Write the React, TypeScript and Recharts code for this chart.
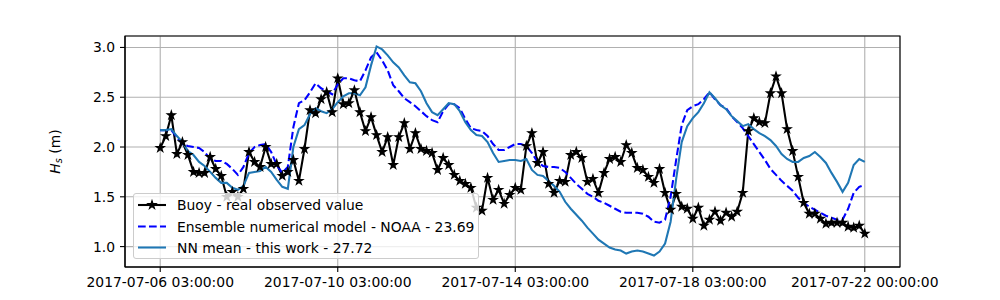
import React from 'react';
import { LineChart, Line, XAxis, YAxis, CartesianGrid, Legend, ReferenceArea } from 'recharts';

// 3-hourly samples from 2017-07-06 03:00 to 2017-07-22 00:00
const STEP_HOURS = 3;

const buoy = [
  1.99, 2.11, 2.32, 1.93, 2.05, 1.92, 1.75, 1.74, 1.74, 1.90,
  1.78, 1.71, 1.50, 1.55, 1.50, 1.58, 1.95, 1.85, 1.80, 2.00,
  1.83, 1.83, 1.71, 1.75, 1.87, 1.66, 1.98, 2.37, 2.34, 2.48,
  2.55, 2.35, 2.69, 2.43, 2.44, 2.57, 2.35, 2.16, 2.30, 2.12,
  1.95, 2.10, 1.82, 2.10, 2.24, 1.98, 2.14, 1.98, 1.96, 1.94,
  1.77, 1.89, 1.82, 1.72, 1.66, 1.63, 1.59, 1.39, 1.36, 1.69,
  1.47, 1.57, 1.43, 1.52, 1.59, 1.57, 2.01, 2.14, 1.84, 1.95,
  1.63, 1.54, 1.66, 1.65, 1.92, 1.95, 1.89, 1.65, 1.68, 1.54,
  1.74, 1.88, 1.90, 1.85, 2.02, 1.94, 1.79, 1.77, 1.70, 1.64,
  1.78, 1.54, 1.37, 1.53, 1.40, 1.38, 1.28, 1.39, 1.21, 1.27,
  1.35, 1.26, 1.34, 1.30, 1.35, 1.54, 2.16, 2.29, 2.25, 2.24,
  2.54, 2.71, 2.54, 2.18, 1.96, 1.70, 1.44, 1.33, 1.33, 1.28,
  1.23, 1.24, 1.24, 1.24, 1.20, 1.19, 1.21, 1.13,
];

const model = [
  2.17, 2.17, 2.17, 2.10, 2.03, 2.01, 2.00, 1.99, 1.95, 1.88,
  1.86, 1.86, 1.83, 1.78, 1.72, 1.80, 1.94, 2.00, 2.02, 2.03,
  1.95, 1.82, 1.74, 1.80, 2.20, 2.44, 2.47, 2.55, 2.64, 2.59,
  2.56, 2.53, 2.63, 2.69, 2.69, 2.67, 2.66, 2.77, 2.90, 2.95,
  2.87, 2.77, 2.62, 2.56, 2.49, 2.45, 2.41, 2.36, 2.31, 2.27,
  2.25, 2.36, 2.43, 2.43, 2.39, 2.28, 2.19, 2.17, 2.16, 2.11,
  2.03, 1.97, 1.97, 2.00, 2.03, 2.03, 2.01, 1.94, 1.85, 1.81,
  1.80, 1.80, 1.79, 1.75, 1.69, 1.63, 1.58, 1.53, 1.50, 1.46,
  1.44, 1.41, 1.38, 1.35, 1.34, 1.34, 1.34, 1.33, 1.30, 1.25,
  1.24, 1.27, 1.50, 1.87, 2.22, 2.37, 2.41, 2.43, 2.48, 2.55,
  2.48, 2.42, 2.39, 2.31, 2.25, 2.19, 2.11, 2.03, 1.95, 1.87,
  1.78, 1.72, 1.66, 1.61, 1.56, 1.49, 1.44, 1.40, 1.37, 1.34,
  1.31, 1.29, 1.27, 1.27, 1.38, 1.54, 1.60, 1.62,
];

const nn = [
  2.17, 2.17, 2.18, 2.11, 2.05, 1.96, 1.92, 1.85, 1.81, 1.75,
  1.69, 1.64, 1.64, 1.59, 1.57, 1.61, 1.74, 1.75, 1.76, 1.80,
  1.75, 1.67, 1.60, 1.58, 2.00, 2.18, 2.22, 2.33, 2.39, 2.36,
  2.34, 2.38, 2.45, 2.51, 2.54, 2.54, 2.52, 2.60, 2.82, 3.01,
  2.98, 2.92, 2.85, 2.80, 2.72, 2.65, 2.64, 2.56, 2.44, 2.35,
  2.32, 2.38, 2.44, 2.43, 2.36, 2.25, 2.17, 2.12, 2.11, 2.05,
  1.94, 1.85, 1.86, 1.87, 1.87, 1.86, 1.88, 1.77, 1.72, 1.71,
  1.66, 1.61, 1.55, 1.45, 1.38, 1.32, 1.26, 1.19, 1.13, 1.07,
  1.03, 0.99, 0.97, 0.96, 0.93, 0.95, 0.96, 0.95, 0.93, 0.91,
  0.95, 1.03, 1.25, 1.68, 2.05, 2.21, 2.29, 2.35, 2.44, 2.55,
  2.49, 2.42, 2.38, 2.31, 2.26, 2.21, 2.23, 2.18, 2.14, 2.11,
  2.07, 2.01, 1.93, 1.88, 1.85, 1.85, 1.89, 1.91, 1.95, 1.90,
  1.84, 1.74, 1.65, 1.55, 1.64, 1.82, 1.88, 1.85,
];

const xTickHours = [0, 96, 192, 288, 381];
const xTickLabels = [
  '2017-07-06 03:00:00',
  '2017-07-10 03:00:00',
  '2017-07-14 03:00:00',
  '2017-07-18 03:00:00',
  '2017-07-22 00:00:00',
];
const yTicks = [1.0, 1.5, 2.0, 2.5, 3.0];
const seriesNames = [
  'Buoy - real observed value',
  'Ensemble numerical model - NOAA - 23.69',
  'NN mean - this work - 27.72',
];

const data = buoy.map((b, i) => ({ t: i * STEP_HOURS, buoy: b, model: model[i], nn: nn[i] }));

const FONT = 'DejaVu Sans';
const FS = 13.9;
const BLUE = '#0000ff';
const NNC = '#1f77b4';
const X_DOMAIN: [number, number] = [-19.05, 400.05];
const Y_DOMAIN: [number, number] = [0.795, 3.115];

function starPath(cx: number, cy: number, R: number) {
  const r = R * 0.381966;
  let d = '';
  for (let k = 0; k < 10; k++) {
    const ang = -Math.PI / 2 + (k * Math.PI) / 5;
    const rad = k % 2 === 0 ? R : r;
    d += (k === 0 ? 'M' : 'L') + (cx + rad * Math.cos(ang)).toFixed(2) + ',' + (cy + rad * Math.sin(ang)).toFixed(2);
  }
  return d + 'Z';
}

const renderStar = (p: any) => {
  const { cx, cy, index } = p;
  if (cx == null || cy == null) return <g key={`s-${index}`} />;
  return <path key={`s-${index}`} d={starPath(cx, cy, 4.2)} fill="#000" stroke="#000" strokeWidth={1.2} strokeLinejoin="miter" />;
};

const renderLegend = () => {
  const rows = [11, 32.5, 53.5];
  return (
    <div
      style={{
        width: 346,
        height: 66,
        boxSizing: 'border-box',
        background: 'rgba(255,255,255,0.8)',
        border: '1px solid #cccccc',
        borderRadius: 3,
      }}
    >
      <svg width={344} height={64} style={{ display: 'block' }}>
        {/* buoy */}
        <line x1={4} x2={32} y1={rows[0]} y2={rows[0]} stroke="#000" strokeWidth={2.08} />
        <path d={starPath(18, rows[0], 4.2)} fill="#000" stroke="#000" strokeWidth={1.2} />
        {/* model */}
        <line x1={4} x2={32} y1={rows[1]} y2={rows[1]} stroke={BLUE} strokeWidth={2.08} strokeDasharray="7.7 3.3" />
        {/* nn */}
        <line x1={4} x2={32} y1={rows[2]} y2={rows[2]} stroke={NNC} strokeWidth={2.08} />
        {seriesNames.map((n, i) => (
          <text key={n} x={43} y={rows[i]} dominantBaseline="central" fontFamily={FONT} fontSize={FS} fill="#000">
            {n}
          </text>
        ))}
      </svg>
    </div>
  );
};

const renderYLabel = () => (
  <text
    x={55}
    y={151.5}
    transform="rotate(-90, 55, 151.5)"
    textAnchor="middle"
    dominantBaseline="central"
    fontFamily={FONT}
    fontSize={FS}
    fill="#000"
  >
    <tspan fontStyle="italic">H</tspan>
    <tspan fontStyle="italic" fontSize={FS * 0.7} dy={3}>s</tspan>
    <tspan dy={-3}>{' (m)'}</tspan>
  </text>
);

const xFmt = (v: number) => {
  const idx = xTickHours.indexOf(v);
  return idx >= 0 ? xTickLabels[idx] : '';
};

export default function App() {
  return (
    <div style={{ position: 'absolute', left: 0, top: 0, width: 1000, height: 300, background: '#fff' }}>
      <LineChart width={1000} height={300} data={data} margin={{ top: 36, right: 100, bottom: 0, left: 0 }}>
        <CartesianGrid stroke="#b0b0b0" strokeWidth={1.1} vertical={true} horizontal={true} />
        <XAxis
          dataKey="t"
          type="number"
          domain={X_DOMAIN}
          allowDataOverflow
          ticks={xTickHours}
          tickFormatter={xFmt}
          interval={0}
          height={33}
          tickSize={5}
          tickMargin={5}
          axisLine={{ stroke: '#000', strokeWidth: 1.1 }}
          tickLine={{ stroke: '#000', strokeWidth: 1.1 }}
          tick={{ fontFamily: FONT, fontSize: FS, fill: '#000' }}
        />
        <YAxis
          type="number"
          domain={Y_DOMAIN}
          allowDataOverflow
          ticks={yTicks}
          tickFormatter={(v: number) => v.toFixed(1)}
          interval={0}
          width={125}
          tickSize={5}
          tickMargin={5}
          axisLine={{ stroke: '#000', strokeWidth: 1.1 }}
          tickLine={{ stroke: '#000', strokeWidth: 1.1 }}
          tick={{ fontFamily: FONT, fontSize: FS, fill: '#000' }}
          label={{ content: renderYLabel }}
        />
        <Line
          dataKey="buoy"
          name={seriesNames[0]}
          stroke="#000"
          strokeWidth={2.08}
          dot={renderStar}
          activeDot={false}
          isAnimationActive={false}
        />
        <Line
          dataKey="model"
          name={seriesNames[1]}
          stroke={BLUE}
          strokeWidth={2.08}
          strokeDasharray="7.7 3.3"
          dot={false}
          activeDot={false}
          isAnimationActive={false}
        />
        <Line
          dataKey="nn"
          name={seriesNames[2]}
          stroke={NNC}
          strokeWidth={2.08}
          dot={false}
          activeDot={false}
          isAnimationActive={false}
        />
        <ReferenceArea
          x1={X_DOMAIN[0]}
          x2={X_DOMAIN[1]}
          y1={Y_DOMAIN[0]}
          y2={Y_DOMAIN[1]}
          fill="none"
          fillOpacity={0}
          stroke="#000"
          strokeWidth={1.1}
          ifOverflow="visible"
        />
        <Legend
          layout="horizontal"
          verticalAlign="middle"
          align="center"
          content={renderLegend}
          wrapperStyle={{ left: 133, top: 193, width: 346, height: 66 }}
        />
      </LineChart>
    </div>
  );
}
